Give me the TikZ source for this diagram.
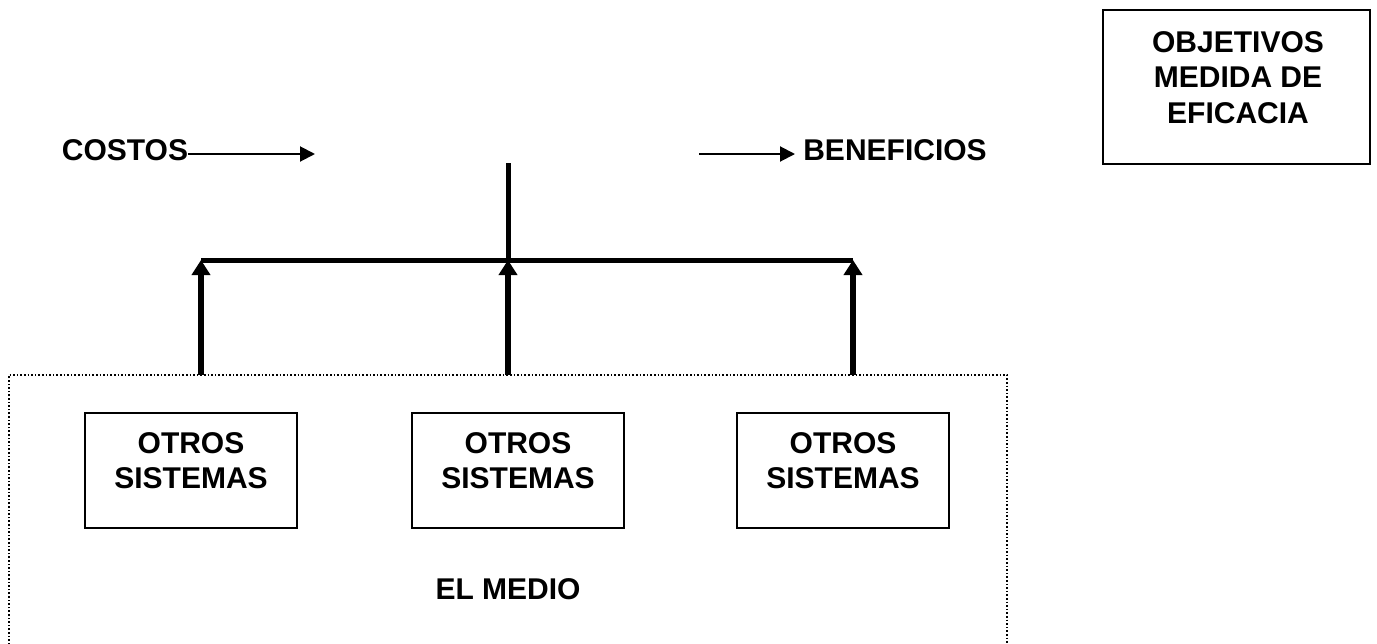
\documentclass[tikz,border=0pt]{standalone}
\usepackage{fontspec}
\setmainfont{Liberation Sans}
\usetikzlibrary{arrows.meta}

\tikzset{
  texto/.style={inner sep=0pt, align=center, font=\bfseries\fontsize{30}{35.5}\selectfont},
  caja/.style={draw, line width=2pt, inner sep=0pt},
  flechafina/.style={line width=2pt, -{Triangle[length=15pt,width=15pt]}},
  flechagruesa/.style={line width=5.5pt, -{Triangle[length=15pt,width=18pt]}},
  medio/.style={dotted, line width=1.6pt}
}

\begin{document}
\begin{tikzpicture}
                    [x=1pt,y=-1pt]

                    \useasboundingbox (0,0) rectangle (1377,643);

                    % Objetivos
                    \node [caja, minimum width=267pt, minimum height=154pt] (obj) at (1236.5,87) {};
                    \node [texto] (objt) at (1238,77.5) {OBJETIVOS\\MEDIDA DE\\EFICACIA};

                    % Costos y beneficios
                    \node [texto] (costos) at (125,150) {COSTOS}; \coordinate (c) at (315,154);
                    \draw [flechafina] (costos.east |- c) -- (c);
                    \node [texto] (benef) at (895,150) {BENEFICIOS};
                    \coordinate (b1) at (699,154); \coordinate (b2) at (795,154);
                    \draw [flechafina] (b1) -- (b2);

                    % Eje
                    \coordinate (top) at (508,163); \coordinate (mid) at (508,260);
                    \coordinate (hl) at (201,260); \coordinate (hr) at (853,260);
                    \draw [line width=5pt] (top) -- (mid); \draw [line width=5pt] (hl) -- (hr);

                    % El medio
                    \draw [medio] (9,648) -- (9,375) -- (1007,375) -- (1007,648);
                    \coordinate (a1) at (201,375); \coordinate (a2) at (508,375); \coordinate (a3) at (853,375);
                    \draw [flechagruesa] (a1) -- (hl); \draw [flechagruesa] (a2) -- (mid); \draw [flechagruesa] (a3) -- (hr);
                    \node [texto] (medio) at (508,589) {EL MEDIO};

                    % Otros sistemas
                    \foreach \x/\n in {191/s1,518/s2,843/s3}{
                      \node [caja, minimum width=212pt, minimum height=115pt] (\n) at (\x,470.5) {};
                      \node [texto] (\n t) at (\x,460.5) {OTROS\\SISTEMAS};
                    }
                \end{tikzpicture}
\end{document}
